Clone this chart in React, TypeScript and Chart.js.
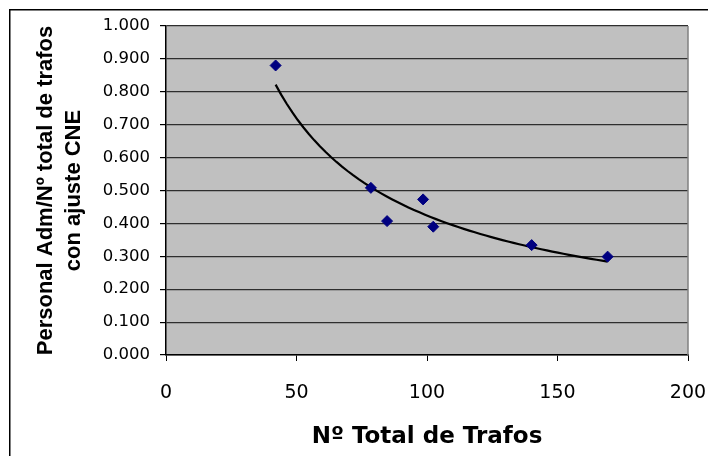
import React, { useEffect, useRef } from "react";
import { Chart, registerables } from "chart.js";

Chart.register(...registerables);

// Data
const trafos: number[] = [42, 78.5, 84.7, 98.5, 102.4, 140.1, 169.2];
const personalRatio: number[] = [0.88, 0.508, 0.407, 0.473, 0.39, 0.334, 0.299];

const xTitle = "Nº Total de Trafos";
const yTitle = ["Personal Adm/Nº total de trafos", "con ajuste CNE"];

// Power trend line (y = a·x^b), least squares on logs, as a spreadsheet trendline does
function powerFit(xs: number[], ys: number[]) {
  const lx = xs.map((v) => Math.log(v));
  const ly = ys.map((v) => Math.log(v));
  const n = xs.length;
  const mx = lx.reduce((s, v) => s + v, 0) / n;
  const my = ly.reduce((s, v) => s + v, 0) / n;
  let sxy = 0;
  let sxx = 0;
  for (let i = 0; i < n; i++) {
    sxy += (lx[i] - mx) * (ly[i] - my);
    sxx += (lx[i] - mx) * (lx[i] - mx);
  }
  const b = sxy / sxx;
  const a = Math.exp(my - b * mx);
  return { a, b };
}

const framePlugin = {
  id: "frame",
  beforeDraw(chart: any) {
    const { ctx, chartArea } = chart;
    ctx.save();
    ctx.fillStyle = "#ffffff";
    ctx.fillRect(0, 0, chart.width, chart.height);
    ctx.strokeStyle = "#000000";
    ctx.lineWidth = 1.5;
    ctx.strokeRect(9.75, 9.75, chart.width + 20, chart.height + 20);
    ctx.fillStyle = "#c0c0c0";
    ctx.fillRect(chartArea.left, chartArea.top, chartArea.right - chartArea.left, chartArea.bottom - chartArea.top);
    ctx.restore();
  },
  beforeDatasetsDraw(chart: any) {
    const { ctx, chartArea } = chart;
    ctx.save();
    ctx.strokeStyle = "#808080";
    ctx.lineWidth = 1.5;
    ctx.beginPath();
    ctx.moveTo(chartArea.right, chartArea.top);
    ctx.lineTo(chartArea.right, chartArea.bottom);
    ctx.stroke();
    ctx.restore();
  },
};

export default function App() {
  const ref = useRef<HTMLCanvasElement | null>(null);

  useEffect(() => {
    if (!ref.current) return;
    const { a, b } = powerFit(trafos, personalRatio);
    const xmin = Math.min(...trafos);
    const xmax = Math.max(...trafos);
    const trend: { x: number; y: number }[] = [];
    const steps = 60;
    for (let i = 0; i <= steps; i++) {
      const x = xmin + ((xmax - xmin) * i) / steps;
      trend.push({ x, y: a * Math.pow(x, b) });
    }
    const points = trafos.map((x, i) => ({ x, y: personalRatio[i] }));

    const chart = new Chart(ref.current, {
      type: "scatter",
      data: {
        datasets: [
          {
            label: "Personal Adm/Nº total de trafos",
            data: points,
            pointStyle: "rectRot",
            pointRadius: 5.5,
            pointBackgroundColor: "#000080",
            pointBorderColor: "#000080",
            pointBorderWidth: 1,
            showLine: false,
            order: 1,
          },
          {
            label: "Tendencia",
            data: trend,
            showLine: true,
            borderColor: "#000000",
            borderWidth: 2.2,
            pointRadius: 0,
            tension: 0,
            order: 2,
          },
        ],
      },
      options: {
        responsive: false,
        animation: false,
        devicePixelRatio: 1,
        layout: { padding: { top: 26, right: 20, left: 0, bottom: 0 } },
        plugins: {
          legend: { display: false },
          tooltip: { enabled: false },
        },
        scales: {
          x: {
            type: "linear",
            min: 0,
            max: 200,
            ticks: {
              stepSize: 50,
              padding: 21,
              color: "#000000",
              font: { family: "'DejaVu Sans', sans-serif", size: 19 },
              maxRotation: 0,
            },
            grid: {
              drawOnChartArea: false,
              drawTicks: true,
              tickLength: 6,
              tickColor: "#000000",
            },
            border: { display: true, color: "#000000", width: 1.5 },
            title: {
              display: true,
              text: xTitle,
              color: "#000000",
              font: { family: "'DejaVu Sans', sans-serif", size: 23, weight: "bold", lineHeight: 1.2 },
              padding: { top: 0, bottom: 5 },
            },
            afterFit(scale: any) {
              scale.height = 101;
              scale.paddingLeft = 0;
              scale.paddingRight = 0;
            },
          },
          y: {
            type: "linear",
            min: 0,
            max: 1,
            ticks: {
              stepSize: 0.1,
              padding: 10,
              color: "#000000",
              font: { family: "'DejaVu Sans', sans-serif", size: 16.5 },
              callback: (v: any) => Number(v).toFixed(3),
            },
            grid: {
              color: "#2e2e2e",
              lineWidth: 1.2,
              drawTicks: true,
              tickLength: 6,
              tickColor: "#000000",
            },
            border: { display: true, color: "#000000", width: 1.5 },
            title: {
              display: true,
              text: yTitle,
              color: "#000000",
              font: { family: "'Liberation Sans', Arial, sans-serif", size: 22, weight: "bold", lineHeight: 1.26 },
              padding: { top: 32, bottom: 0 },
            },
            afterFit(scale: any) {
              scale.width = 166;
              scale.paddingTop = 0;
              scale.paddingBottom = 0;
            },
          },
        },
      },
      plugins: [framePlugin],
    });
    return () => chart.destroy();
  }, []);

  return (
    <div style={{ position: "absolute", left: 0, top: 0, width: 708, height: 456 }}>
      <canvas ref={ref} width={708} height={456} style={{ display: "block", width: 708, height: 456 }} />
    </div>
  );
}
